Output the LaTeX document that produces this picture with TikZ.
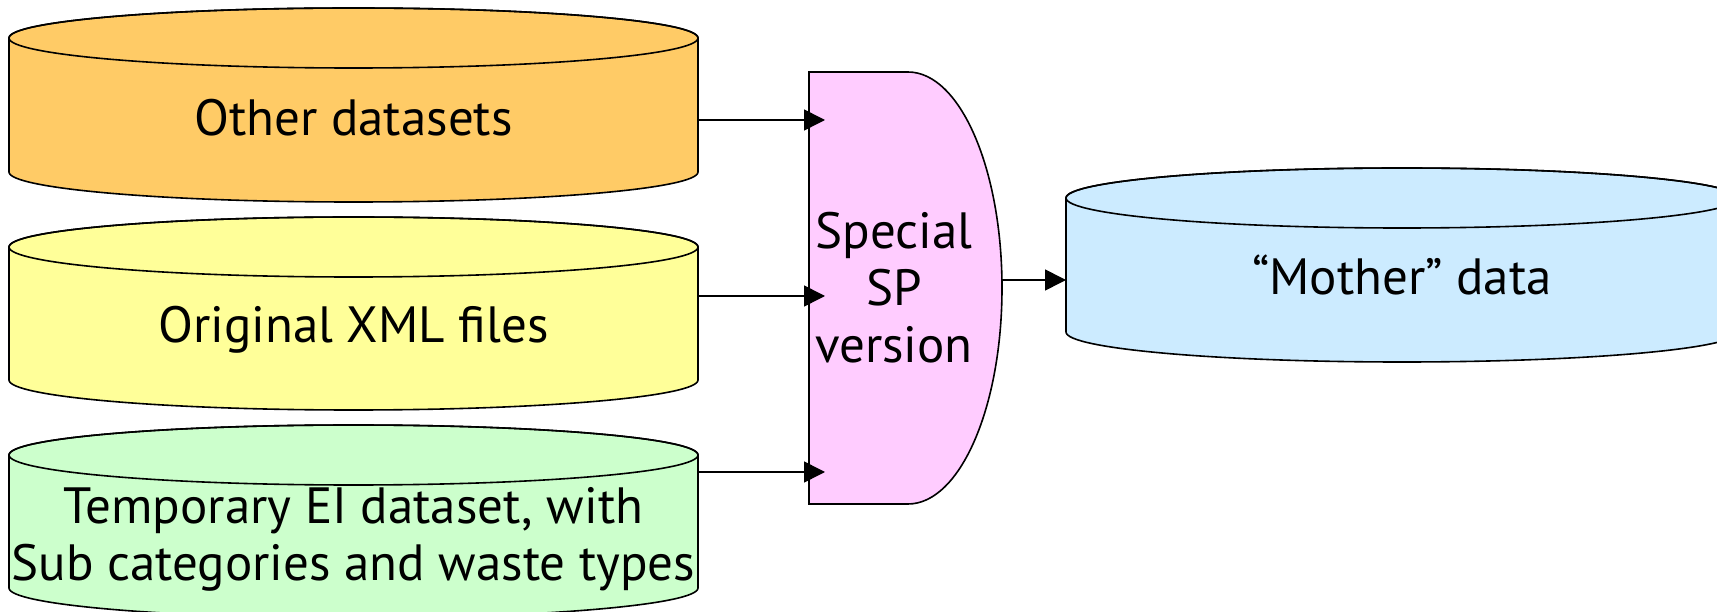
\documentclass[tikz,border=0pt]{standalone}
\usepackage{fontspec}
\setmainfont{PT Sans}
\usetikzlibrary{arrows.meta}
\definecolor{otherfill}{HTML}{FFCB66}
\definecolor{xmlfill}{HTML}{FFFF99}
\definecolor{tempfill}{HTML}{CCFFCC}
\definecolor{spfill}{HTML}{FFCCFF}
\definecolor{motherfill}{HTML}{CCEBFF}
\begin{document}
\begin{tikzpicture}[x=1pt,y=1pt,
    outline/.style={draw=black, line width=1.6pt},
    label/.style={font=\fontsize{51}{57}\selectfont, inner sep=0pt, outer sep=0pt},
    flow/.style={line width=1.6pt, -{Triangle[length=21pt,width=21pt]}}]
    \useasboundingbox (0,0) rectangle (1717,611);

    % the three data stores on the left
    \draw [outline, fill=otherfill] (9,573) -- (9,439) arc[start angle=180, end angle=360, x radius=344.5, y radius=30]
      -- (698,573) arc[start angle=0, end angle=180, x radius=344.5, y radius=30] -- cycle;
    \draw [outline] (353.5,573) ellipse[x radius=344.5, y radius=30];
      \node [label, minimum width=689pt, anchor=base] (other) at (353.5,475) {Other datasets};

    \draw [outline, fill=xmlfill] (9,364) -- (9,231) arc[start angle=180, end angle=360, x radius=344.5, y radius=30]
      -- (698,364) arc[start angle=0, end angle=180, x radius=344.5, y radius=30] -- cycle;
    \draw [outline] (353.5,364) ellipse[x radius=344.5, y radius=30];
      \node [label, minimum width=689pt, anchor=base] (xml) at (353.5,268) {Original XML files};

    \draw [outline, fill=tempfill] (9,156) -- (9,23) arc[start angle=180, end angle=360, x radius=344.5, y radius=30]
      -- (698,156) arc[start angle=0, end angle=180, x radius=344.5, y radius=30] -- cycle;
    \draw [outline] (353.5,156) ellipse[x radius=344.5, y radius=30];
      \node [label, minimum width=689pt, align=center] (temp) at (353.5,72)
        {Temporary EI dataset, with\\Sub categories and waste types};

    % the special version in the middle
    \draw [outline, fill=spfill] (809,539) -- (908,539) arc[start angle=90, end angle=-90, x radius=94, y radius=216]
      -- (809,107) -- cycle;
      \node [label, align=center] (sp) at (894,323) {Special\\SP\\version};
    \coordinate (sp-in1) at (825,491);
    \coordinate (sp-in2) at (825,315);
    \coordinate (sp-in3) at (825,139);
    \coordinate (sp-out) at (1002,331);

    % the mother data on the right
    \draw [outline, fill=motherfill] (1066,413) -- (1066,279) arc[start angle=180, end angle=360, x radius=336, y radius=30]
      -- (1738,413) arc[start angle=0, end angle=180, x radius=336, y radius=30] -- cycle;
    \draw [outline] (1402,413) ellipse[x radius=336, y radius=30];
      \node [label, minimum width=672pt, anchor=base] (mother) at (1402,316) {“Mother” data};

    \draw [flow] (other.east |- sp-in1) -- (sp-in1);
    \draw [flow] (xml.east |- sp-in2) -- (sp-in2);
    \draw [flow] (temp.east |- sp-in3) -- (sp-in3);
    \draw [flow] (sp-out) -- (mother.west |- sp-out);
\end{tikzpicture}
\end{document}
